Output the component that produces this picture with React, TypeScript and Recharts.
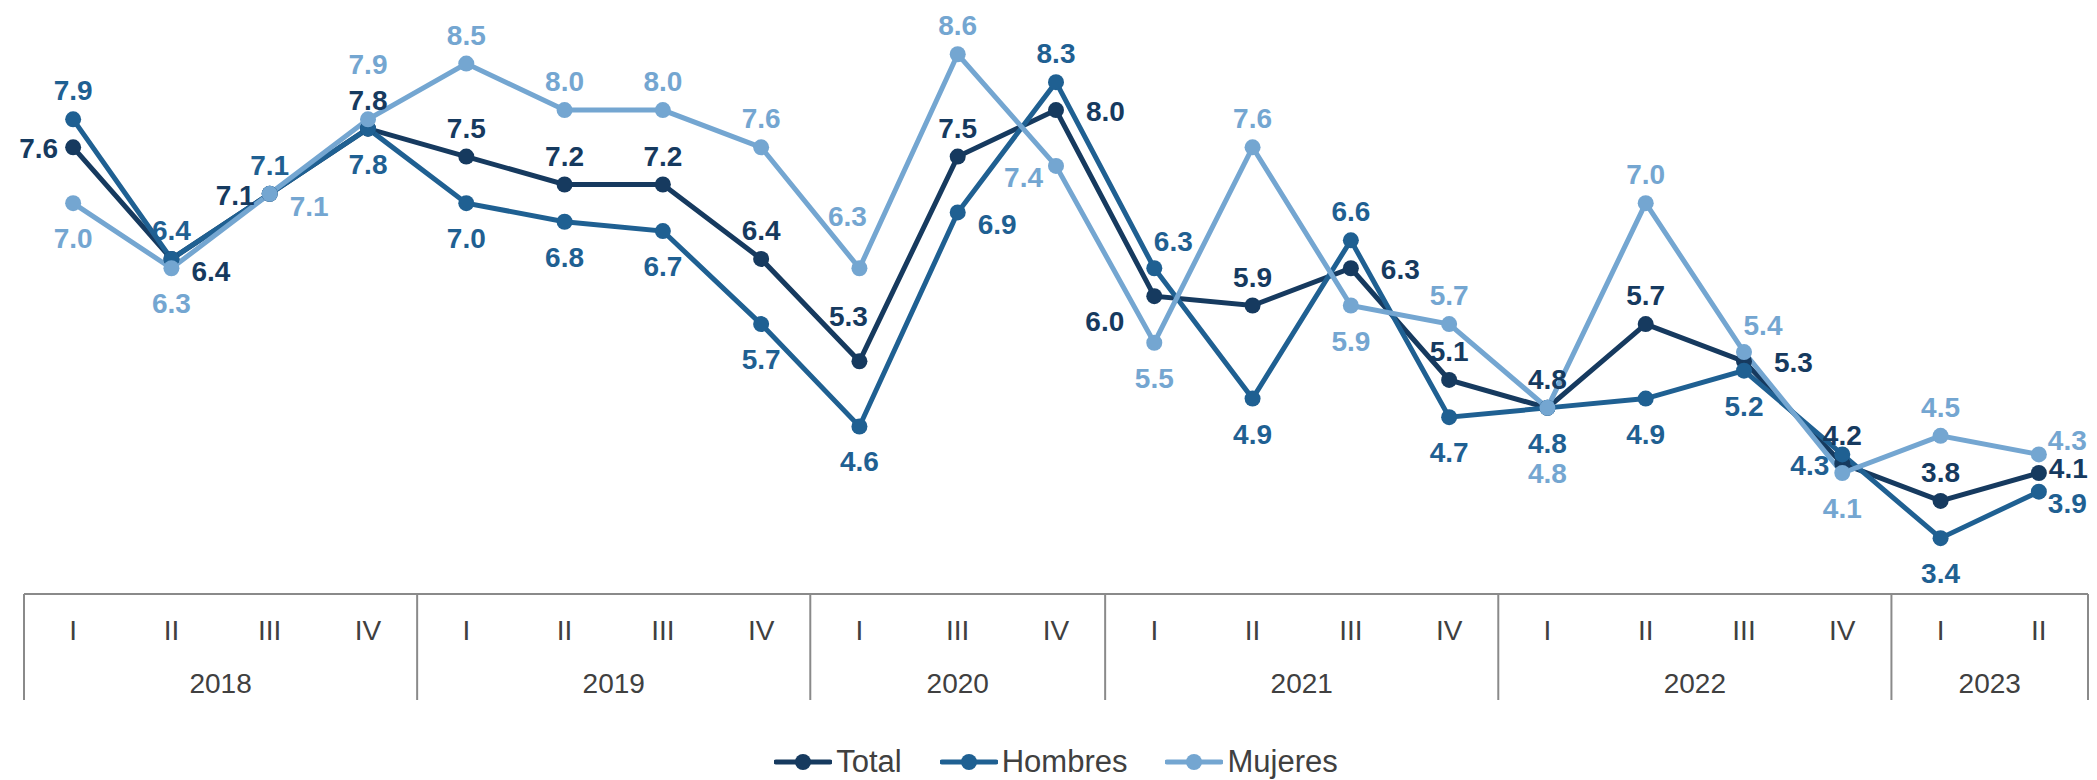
import { LineChart, Line, XAxis, YAxis, Legend, LabelList } from 'recharts';

// ---- data ----
const quarters = ['I', 'II', 'III', 'IV', 'I', 'II', 'III', 'IV', 'I', 'III', 'IV', 'I', 'II', 'III', 'IV', 'I', 'II', 'III', 'IV', 'I', 'II'];
const years = ['2018', '2019', '2020', '2021', '2022', '2023'];
const yearSpans = [4, 4, 3, 4, 4, 2];

const total = [7.6, 6.4, 7.1, 7.8, 7.5, 7.2, 7.2, 6.4, 5.3, 7.5, 8.0, 6.0, 5.9, 6.3, 5.1, 4.8, 5.7, 5.3, 4.2, 3.8, 4.1];
const hombres = [7.9, 6.4, 7.1, 7.8, 7.0, 6.8, 6.7, 5.7, 4.6, 6.9, 8.3, 6.3, 4.9, 6.6, 4.7, 4.8, 4.9, 5.2, 4.3, 3.4, 3.9];
const mujeres = [7.0, 6.3, 7.1, 7.9, 8.5, 8.0, 8.0, 7.6, 6.3, 8.6, 7.4, 5.5, 7.6, 5.9, 5.7, 4.8, 7.0, 5.4, 4.1, 4.5, 4.3];

// where each value label sits relative to its point
const totalPos = ['l', 'rd', 'l', 't', 't', 't', 't', 't', 'tl', 't', 'R', 'L', 't', 'R', 't', 't', 't', 'R', 't', 't', 'rr'];
const hombresPos = ['t', 't', 't', 'b', 'b', 'b', 'b', 'b', 'b', 'rd', 't', 'tr', 'b', 't', 'b', 'b', 'b', 'b', 'ld', 'b', 'rd2'];
const mujeresPos = ['b', 'b', 'rd', 'T', 't', 't', 't', 't', 'Tl', 't', 'ld', 'b', 't', 'b', 't', 'B', 't', 'tr', 'b', 't', 'ru'];

const COLORS = {
  total: '#163a5f',
  hombres: '#1f6092',
  mujeres: '#74a6d1'
};

const W = 2097;
const H = 780;
const M = { top: 17, right: 9, left: 24, bottom: 0 };
const BAND = (W - M.left - M.right) / quarters.length;
const FONT = '"Liberation Sans", Arial, sans-serif';
const AXIS_GRAY = '#8a8a8a';
const TEXT_GRAY = '#404040';

const categories = quarters.map((q, i) => {
  let acc = 0;
  for (let g = 0; g < years.length; g++) {
    if (i < acc + yearSpans[g]) return years[g] + '-' + q;
    acc += yearSpans[g];
  }
  return q;
});

const data = categories.map((c, i) => ({
  cat: c,
  total: total[i],
  hombres: hombres[i],
  mujeres: mujeres[i]
}));

const groupStarts: number[] = [];
yearSpans.reduce((acc, n) => {
  groupStarts.push(acc);
  return acc + n;
}, 0);

// ---- label placement: [anchor, dx, dy to baseline] ----
const OFFSETS: Record<string, [string, number, number]> = {
  t: ['middle', 0, -19],
  tl: ['middle', -11, -35],
  tr: ['middle', 19, -17],
  T: ['middle', 0, -45],
  Tl: ['middle', -12, -42],
  b: ['middle', 0, 45],
  B: ['middle', 0, 75],
  l: ['end', -15, 11],
  ld: ['end', -13, 21],
  L: ['end', -30, 35],
  r: ['start', 13, 11],
  rr: ['start', 10, 5],
  ru: ['start', 9, -4],
  rd: ['start', 20, 22],
  rd2: ['start', 9, 21],
  R: ['start', 30, 11]
};

function makeLabel(pos: string[], color: string) {
  return (props: any) => {
    const { x, y, value, index } = props;
    const [anchor, dx, dy] = OFFSETS[pos[index]] || OFFSETS.t;
    return (
      <text
        x={x + dx}
        y={y + dy}
        textAnchor={anchor as any}
        fill={color}
        fontFamily={FONT}
        fontWeight="bold"
        fontSize={28}
      >
        {Number(value).toFixed(1)}
      </text>
    );
  };
}

// ---- x axis: quarters + year boxes ----
function QuarterTick(props: any) {
  const { x, y, payload } = props;
  const i = categories.indexOf(payload.value);
  const g = groupStarts.indexOf(i);
  const boxH = 106;

  let yearPart = null;
  if (g >= 0) {
    const left = x - BAND / 2;
    const mid = left + (yearSpans[g] * BAND) / 2;
    yearPart = (
      <g>
        <line x1={left} y1={y} x2={left} y2={y + boxH} stroke={AXIS_GRAY} strokeWidth={2} />
        <text x={mid} y={y + 99} textAnchor="middle" fill={TEXT_GRAY} fontFamily={FONT} fontSize={28}>
          {years[g]}
        </text>
      </g>
    );
  }

  const rightEdge =
    i === quarters.length - 1 ? (
      <line x1={x + BAND / 2} y1={y} x2={x + BAND / 2} y2={y + boxH} stroke={AXIS_GRAY} strokeWidth={2} />
    ) : null;

  return (
    <g>
      <text x={x} y={y + 46} textAnchor="middle" fill={TEXT_GRAY} fontFamily={FONT} fontSize={28}>
        {quarters[i]}
      </text>
      {yearPart}
      {rightEdge}
    </g>
  );
}

// ---- legend ----
const legendItems = [
  { name: 'Total', color: COLORS.total },
  { name: 'Hombres', color: COLORS.hombres },
  { name: 'Mujeres', color: COLORS.mujeres }
];

function ChartLegend() {
  return (
    <div
      style={{
        display: 'flex',
        justifyContent: 'center',
        alignItems: 'center',
        gap: 38,
        height: 36,
        fontFamily: FONT,
        fontSize: 31,
        color: TEXT_GRAY
      }}
    >
      {legendItems.map((it) => (
        <div key={it.name} style={{ display: 'flex', alignItems: 'center', gap: 4 }}>
          <svg width={58} height={20}>
            <line x1={2} y1={10} x2={56} y2={10} stroke={it.color} strokeWidth={5} strokeLinecap="round" />
            <circle cx={29} cy={10} r={8} fill={it.color} />
          </svg>
          <span>{it.name}</span>
        </div>
      ))}
    </div>
  );
}

export default function App() {
  const series = [
    { key: 'total', name: 'Total', color: COLORS.total, pos: totalPos },
    { key: 'hombres', name: 'Hombres', color: COLORS.hombres, pos: hombresPos },
    { key: 'mujeres', name: 'Mujeres', color: COLORS.mujeres, pos: mujeresPos }
  ];

  return (
    <div style={{ position: 'absolute', left: 0, top: 0, width: W, height: H, background: '#fff' }}>
      <LineChart width={W} height={H} data={data} margin={M}>
        <XAxis
          dataKey="cat"
          interval={0}
          height={150}
          padding={{ left: BAND / 2, right: BAND / 2 }}
          tickLine={false}
          tickSize={0}
          tickMargin={0}
          axisLine={{ stroke: AXIS_GRAY, strokeWidth: 2 }}
          tick={<QuarterTick />}
        />
        <YAxis hide domain={[2.8, 9.0]} />
        <Legend verticalAlign="bottom" height={36} content={<ChartLegend />} />
        {series.map((s) => (
          <Line
            key={s.key}
            type="linear"
            dataKey={s.key}
            name={s.name}
            stroke={s.color}
            strokeWidth={5}
            dot={{ r: 8, fill: s.color, stroke: 'none' }}
            activeDot={false}
            isAnimationActive={false}
          >
            <LabelList dataKey={s.key} content={makeLabel(s.pos, s.color)} />
          </Line>
        ))}
      </LineChart>
    </div>
  );
}
